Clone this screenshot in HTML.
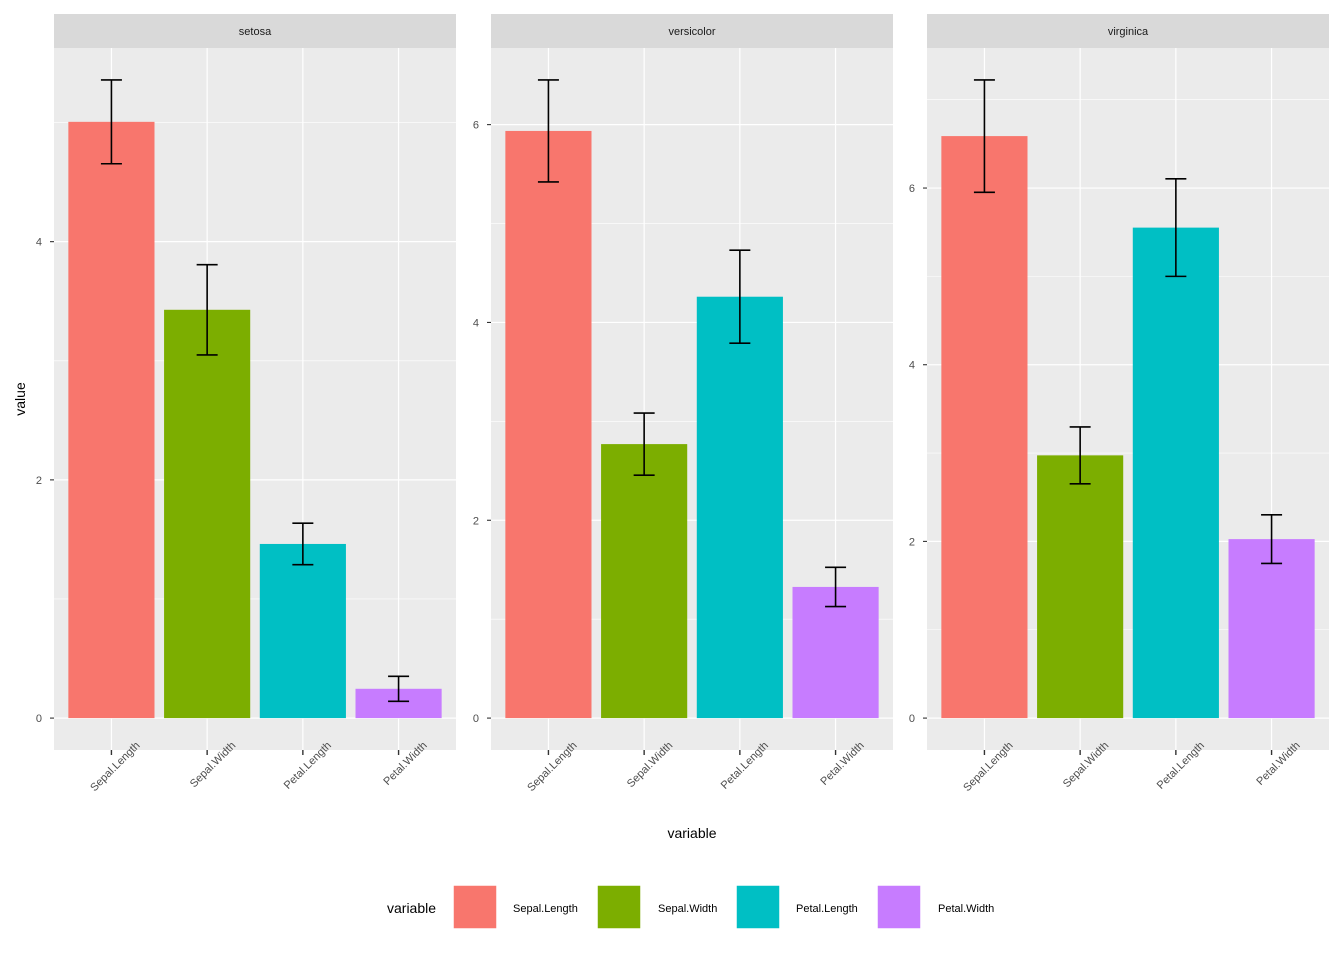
<!DOCTYPE html>
<html><head><meta charset="utf-8"><style>
body{margin:0;background:#fff;font-family:"Liberation Sans",sans-serif}
svg text{font-family:"Liberation Sans",sans-serif}
</style></head><body>
<svg id="chart" width="1344" height="960" xmlns="http://www.w3.org/2000/svg"></svg>
<script>
const species = ["setosa","versicolor","virginica"];
const categories = ["Sepal.Length","Sepal.Width","Petal.Length","Petal.Width"];
const colors = ["#F8766D","#7CAE00","#00BFC4","#C77CFF"];
const meansSetosa = [5.006,3.428,1.462,0.246];
const sdSetosa = [0.352,0.379,0.174,0.105];
const meansVersicolor = [5.936,2.770,4.260,1.326];
const sdVersicolor = [0.516,0.314,0.470,0.198];
const meansVirginica = [6.588,2.974,5.552,2.026];
const sdVirginica = [0.636,0.322,0.552,0.275];
const yTicksSetosa = [0,2,4];
const yTicksVersicolor = [0,2,4,6];
const yTicksVirginica = [0,2,4,6];

const means=[meansSetosa,meansVersicolor,meansVirginica];
const sds=[sdSetosa,sdVersicolor,sdVirginica];
const ticks=[yTicksSetosa,yTicksVersicolor,yTicksVirginica];
const svgEl=document.getElementById('chart');
const NS="http://www.w3.org/2000/svg";
function mk(t,a,txt){const e=document.createElementNS(NS,t);for(const k in a)e.setAttribute(k,a[k]);if(txt!=null)e.textContent=txt;svgEl.appendChild(e);return e;}
const panelX=[54,491,927], pw=402, pTop=48, pBot=750;
for(let p=0;p<3;p++){
  const x0=panelX[p];
  let ymax=0;for(let i=0;i<4;i++)ymax=Math.max(ymax,means[p][i]+sds[p][i]);
  const lo=0-ymax*0.05, hi=ymax*1.05;
  const y=v=>pBot-(v-lo)/(hi-lo)*(pBot-pTop);
  const xs=(pw)/4.2;
  const x=i=>x0+(i+0.6)*xs;
  let e=mk('rect',{x:x0,y:pTop,width:pw,height:pBot-pTop,fill:'#EBEBEB'});
  
  e=mk('rect',{x:x0,y:14,width:pw,height:34,fill:'#D9D9D9'});
  
  e=mk('text',{x:x0+pw/2,y:35,'font-size':11,'text-anchor':'middle',fill:'#1A1A1A'},species[p]);
  
  const tk=ticks[p], step=tk[1]-tk[0];
  for(let v=tk[0]+step/2;v<hi;v+=step){mk('line',{x1:x0,x2:x0+pw,y1:y(v),y2:y(v),stroke:'#fff','stroke-width':0.6});}
  tk.forEach(v=>{
    mk('line',{x1:x0,x2:x0+pw,y1:y(v),y2:y(v),stroke:'#fff','stroke-width':1.2});
    mk('line',{x1:x0-4,x2:x0,y1:y(v),y2:y(v),stroke:'#333','stroke-width':1.1});
    const t=mk('text',{x:x0-12,y:y(v)+4,'font-size':11,'text-anchor':'end',fill:'#4D4D4D'},v);
    
  });
  for(let i=0;i<4;i++){
    mk('line',{x1:x(i),x2:x(i),y1:pTop,y2:pBot,stroke:'#fff','stroke-width':1.2});
    mk('line',{x1:x(i),x2:x(i),y1:pBot,y2:pBot+5,stroke:'#333','stroke-width':1.4});
    const t=mk('text',{x:0,y:0,'font-size':11,'text-anchor':'end',fill:'#4D4D4D',transform:`translate(${x(i)+29},${pBot-4}) rotate(-45)`},categories[i]);
    
  }
  for(let i=0;i<4;i++){
    const m=means[p][i],s=sds[p][i],bw=xs*0.9;
    const b=mk('rect',{x:x(i)-bw/2,y:y(m),width:bw,height:y(0)-y(m),fill:colors[i]});
    
    
    const g=[[x(i),x(i),y(m-s),y(m+s)],[x(i)-10.5,x(i)+10.5,y(m+s),y(m+s)],[x(i)-10.5,x(i)+10.5,y(m-s),y(m-s)]];
    g.forEach(a=>{const l=mk('line',{x1:a[0],x2:a[1],y1:a[2],y2:a[3],stroke:'#000','stroke-width':1.6});
      });
  }
}
let tt=mk('text',{x:0,y:0,'font-size':14,'text-anchor':'middle',fill:'#000',transform:'translate(25,399) rotate(-90)'},'value');

tt=mk('text',{x:692,y:838,'font-size':14,'text-anchor':'middle',fill:'#000'},'variable');

tt=mk('text',{x:387,y:913,'font-size':14,fill:'#000'},'variable');

const kx=[453,597,736,877], lx=[513,658,796,938];
for(let i=0;i<4;i++){
  const r=mk('rect',{x:kx[i],y:885,width:44,height:44,fill:colors[i],stroke:'#fff','stroke-width':1.5});
  
  const l=mk('text',{x:lx[i],y:912,'font-size':11,fill:'#000'},categories[i]);
  
}
</script>
</body></html>
